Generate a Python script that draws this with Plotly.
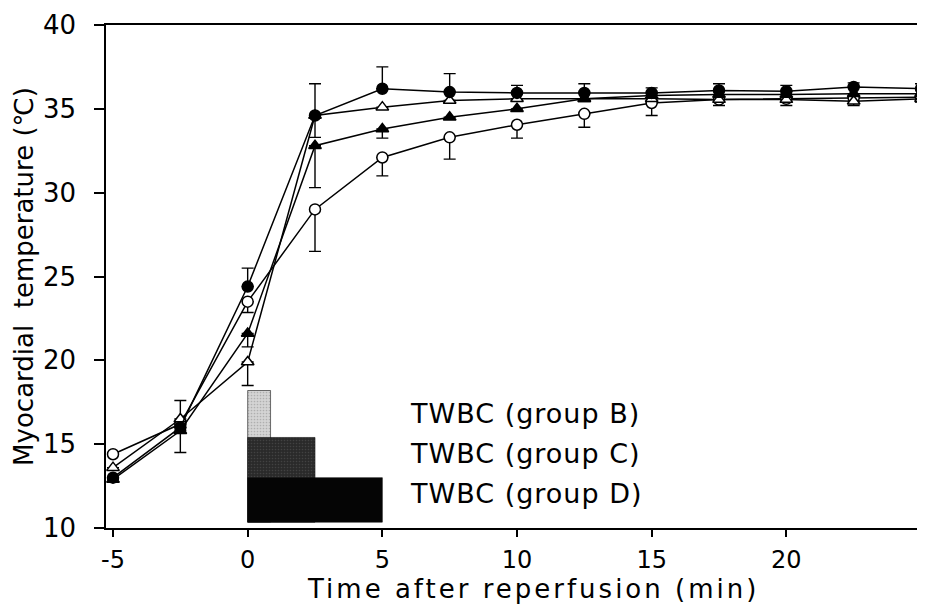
import plotly.graph_objects as go

# ---- data ----
time_min = [-5, -2.5, 0, 2.5, 5, 7.5, 10, 12.5, 15, 17.5, 20, 22.5, 25]

filled_circle = [13.0, 16.0, 24.4, 34.6, 36.2, 36.0, 35.95, 35.95, 35.95, 36.1, 36.05, 36.3, 36.2]
filled_circle_err_up = [0, 0, 1.1, 1.9, 1.3, 1.1, 0.45, 0.55, 0.3, 0.4, 0.35, 0.25, 0.3]
filled_circle_err_dn = [0, 0, 0, 0, 0, 0, 0, 0, 0, 0, 0, 0, 0]

open_circle = [14.4, 16.2, 23.5, 29.0, 32.1, 33.3, 34.05, 34.7, 35.35, 35.55, 35.6, 35.65, 35.7]
open_circle_err_up = [0, 0, 0, 0, 0, 0, 0, 0, 0, 0, 0, 0, 0]
open_circle_err_dn = [0, 0, 0.65, 2.5, 1.1, 1.3, 0.8, 0.8, 0.75, 0.35, 0.4, 0.45, 0.3]

filled_triangle = [12.9, 15.8, 21.6, 32.8, 33.8, 34.5, 35.0, 35.6, 35.8, 35.85, 35.85, 35.9, 35.9]
filled_triangle_err_up = [0, 0, 0, 0, 0, 0, 0, 0, 0, 0, 0, 0, 0]
filled_triangle_err_dn = [0, 1.3, 0.8, 2.5, 0.55, 0, 0, 0, 0, 0, 0, 0, 0]

open_triangle = [13.6, 16.5, 19.9, 34.6, 35.1, 35.5, 35.6, 35.6, 35.6, 35.55, 35.55, 35.45, 35.6]
open_triangle_err_up = [0, 1.1, 0, 0, 0, 0, 0, 0, 0, 0, 0, 0, 0]
open_triangle_err_dn = [0, 0, 1.4, 1.3, 0, 0, 0, 0, 0, 0, 0, 0, 0]

# TWBC infusion periods (min) and the heights of their bars in the inset
twbc_groups = ["TWBC (group B)", "TWBC (group C)", "TWBC (group D)"]
twbc_duration = [0.85, 2.5, 5.0]
twbc_top = [18.2, 15.4, 13.0]
twbc_base = 10.35
twbc_label_x = 5.95
twbc_label_y = [16.85, 14.45, 12.05]

x_ticks = [-5, 0, 5, 10, 15, 20]
x_tick_text = ["-5", "0", "5", "10", "15", "20"]
y_ticks = [10, 15, 20, 25, 30, 35, 40]

FONT = "DejaVu Sans"

fig = go.Figure()

# TWBC bars (overlayed, drawn under the curves)
bar_colors = ["#d4d4d4", "#3c3c3c", "#050505"]
bar_patterns = [dict(shape=".", fgcolor="#8a8a8a", bgcolor="#d4d4d4", size=3, solidity=0.25),
                dict(shape=".", fgcolor="#5a5a5a", bgcolor="#2a2a2a", size=3, solidity=0.2),
                dict(shape="")]
for name, dur, top, col, pat in zip(twbc_groups, twbc_duration, twbc_top, bar_colors, bar_patterns):
    fig.add_trace(go.Bar(
        x=[dur / 2], y=[top - twbc_base], base=[twbc_base], width=[dur],
        marker=dict(color=col, line=dict(color="#111", width=0.6), pattern=pat),
        name=name, showlegend=False, hoverinfo="skip",
    ))

def series(y, up, dn, symbol, fill, name):
    return go.Scatter(
        x=time_min, y=y, mode="lines+markers", name=name, showlegend=False,
        line=dict(color="black", width=1.5),
        marker=dict(symbol=symbol, size=11, color=fill, line=dict(color="black", width=1.5)),
        error_y=dict(type="data", symmetric=False, array=up, arrayminus=dn,
                     color="black", thickness=1.4, width=6),
    )

fig.add_trace(series(open_circle, open_circle_err_up, open_circle_err_dn, "circle", "white", "open circle"))
fig.add_trace(series(open_triangle, open_triangle_err_up, open_triangle_err_dn, "triangle-up", "white", "open triangle"))
fig.add_trace(series(filled_triangle, filled_triangle_err_up, filled_triangle_err_dn, "triangle-up", "black", "filled triangle"))
fig.add_trace(series(filled_circle, filled_circle_err_up, filled_circle_err_dn, "circle", "black", "filled circle"))

for lab, ly in zip(twbc_groups, twbc_label_y):
    fig.add_annotation(x=twbc_label_x, y=ly, text='<span style="letter-spacing:1px">' + lab + '</span>',
                       showarrow=False, xanchor="left",
                       yanchor="middle", font=dict(family=FONT, size=27, color="black"))

fig.add_annotation(xref="paper", yref="paper", x=0.524, y=-0.087,
                   text='<span style="letter-spacing:3px">Time after reperfusion (min)</span>',
                   showarrow=False, xanchor="center", yanchor="top",
                   font=dict(family=FONT, size=26, color="black"))

fig.update_layout(
    width=917, height=599, margin=dict(l=98, r=2, t=16, b=79),
    paper_bgcolor="white", plot_bgcolor="white", barmode="overlay",
    font=dict(family=FONT, color="black"),
    xaxis=dict(range=[-5.26, 25], tickvals=x_ticks, ticktext=x_tick_text, ticks="outside",
               ticklen=7, tickwidth=1.5,
               tickcolor="black", showline=True, linecolor="black", linewidth=1.5, mirror=True,
               showgrid=False, zeroline=False, tickfont=dict(family=FONT, size=24),
               ticklabelstandoff=2),
    yaxis=dict(range=[10, 40], tickvals=y_ticks, ticks="outside", ticklen=10, tickwidth=1.5,
               tickcolor="black", showline=True, linecolor="black", linewidth=1.5, mirror=True,
               showgrid=False, zeroline=False, tickfont=dict(family=FONT, size=26),
               ticklabelstandoff=13,
               title=dict(text="Myocardial  temperature (\u2103)", font=dict(family=FONT, size=26),
                          standoff=2)),
)

fig.write_html("out.html")
